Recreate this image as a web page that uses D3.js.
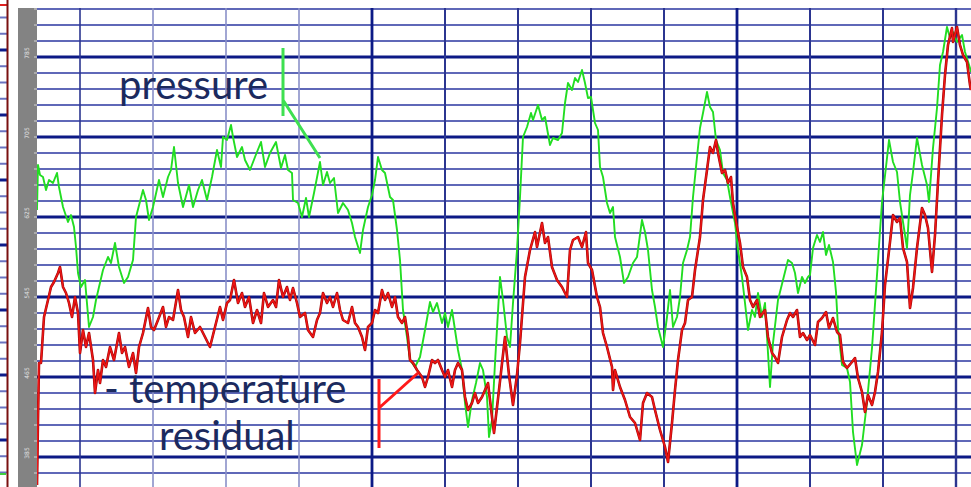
<!DOCTYPE html>
<html>
<head>
<meta charset="utf-8">
<script src="https://cdn.jsdelivr.net/npm/d3@7"></script>
<style>
  html, body { margin: 0; padding: 0; background: #fff; }
  svg { display: block; }
  .lbl { font-family: Lato, "Open Sans", sans-serif; fill: #1b2a5e; }
</style>
</head>
<body>
<svg id="chart" width="971" height="487"></svg>
<script>
// ---- recorded traces: sample index along the run, value in recorder units ----
const pressureT = [0,1,3,6,9,12,16,20,22,26,31,34,37,39,41,44,48,52,56,59,62,66,71,74,78,82,87,91,96,99,106,109,112,116,122,126,131,134,137,141,146,152,156,161,165,170,175,180,184,186,190,194,196,200,205,208,213,218,224,228,233,239,244,248,251,255,256,261,265,269,272,277,283,286,290,293,297,301,306,311,315,318,323,326,331,335,338,341,345,348,353,356,360,363,366,370,373,378,383,388,393,396,400,405,408,411,415,418,421,425,428,431,435,439,443,446,450,452,455,458,463,466,470,473,476,480,483,486,490,494,496,501,505,508,513,516,521,525,528,531,535,538,541,545,548,551,554,558,561,563,566,570,573,576,578,583,587,591,596,600,605,608,611,615,618,621,626,630,633,636,640,643,646,650,653,656,660,663,666,670,673,676,679,683,686,690,693,698,701,705,708,711,715,718,721,725,728,731,733,736,741,746,751,755,758,761,765,768,771,773,776,780,783,786,789,792,796,799,801,805,810,813,816,820,825,830,835,840,845,850,852,856,860,863,866,870,873,876,880,885,890,892,896,900,903,906,910,913,916,920,925,928,933,934];
const pressureV = [247,292,282,280,267,277,274,284,270,250,235,242,230,210,184,170,177,130,140,157,170,187,200,194,214,190,174,180,197,240,267,257,237,250,277,260,280,287,310,274,250,272,250,267,277,257,280,307,290,320,317,332,320,300,310,297,287,300,315,290,304,315,289,302,287,284,257,254,240,259,240,264,295,272,285,274,279,244,254,247,234,220,204,227,250,262,277,300,287,284,260,257,227,197,147,120,97,90,100,127,155,145,154,134,144,130,147,127,107,87,54,30,57,74,94,87,60,20,37,94,180,157,120,110,154,207,260,320,330,344,337,352,337,340,312,319,317,324,354,374,367,379,375,387,374,359,360,334,327,290,280,254,244,250,220,200,174,180,194,200,237,225,207,167,150,130,110,140,167,130,140,160,194,207,220,260,300,329,344,365,350,345,317,307,284,277,260,234,207,180,154,127,147,140,164,140,154,104,70,114,157,177,197,194,184,164,180,174,180,182,209,222,215,225,202,212,195,165,129,92,89,75,25,-8,12,55,109,182,255,299,317,295,285,255,235,209,262,285,319,292,272,255,309,349,392,405,430,419,425,415,422,405,389,385];

const residualT = [0,1,2,4,7,11,14,17,21,23,26,29,32,35,38,41,43,46,49,52,56,58,61,63,66,69,73,77,82,85,88,92,96,99,102,106,111,114,117,121,126,129,132,136,141,144,147,151,154,158,163,168,173,178,183,186,190,193,197,201,205,208,212,216,220,224,227,231,236,239,242,246,250,253,256,260,263,268,271,276,280,283,286,290,293,296,300,303,306,311,315,318,321,325,328,331,335,338,341,345,348,351,355,358,361,365,368,371,373,376,380,385,388,391,395,398,401,405,408,411,415,418,421,425,428,431,435,438,441,445,448,451,455,457,462,468,472,476,480,483,488,493,498,500,505,508,511,515,520,525,530,533,536,541,545,549,551,555,560,563,566,570,575,576,578,583,588,593,598,603,606,610,615,618,623,628,631,635,638,641,645,648,651,655,658,663,666,670,673,676,679,681,685,688,691,694,696,700,703,706,710,713,716,720,723,728,731,735,738,741,745,750,753,756,760,763,766,770,773,778,781,785,789,792,796,800,803,806,810,815,818,821,825,828,831,835,838,841,845,848,853,856,860,863,866,870,873,876,880,885,888,891,895,898,901,905,908,911,915,916,920,923,926,930,933,934];
const residualV = [-28,37,94,94,140,157,170,175,184,190,170,164,154,140,160,144,104,127,110,124,97,64,87,74,97,90,110,97,124,104,110,90,104,84,110,124,149,130,127,137,150,130,140,137,167,147,140,120,140,124,130,120,110,130,150,137,154,157,177,154,164,150,160,134,147,134,164,150,157,150,177,160,170,157,169,154,140,144,127,120,137,144,164,154,160,150,164,147,137,134,150,134,130,120,107,130,134,147,144,167,157,164,150,160,140,134,140,120,97,94,87,80,70,80,97,94,97,87,80,87,70,87,94,87,60,47,54,64,54,60,67,74,40,24,67,120,82,52,82,114,180,207,225,210,234,214,220,190,177,170,160,207,217,220,210,225,194,187,160,150,124,110,90,67,87,70,57,40,34,17,54,64,60,47,27,10,-5,34,67,97,127,134,157,160,187,220,257,287,310,304,317,304,284,287,274,280,254,230,214,190,180,157,150,157,140,147,120,104,100,94,120,137,144,140,147,120,124,117,122,112,135,139,145,129,139,125,122,95,89,95,99,79,65,45,62,52,65,85,125,172,215,242,235,239,209,195,149,169,209,249,242,229,185,222,275,342,382,412,429,415,430,412,402,395,372,367];

// recorder scale divisions
const minorStep = 16;          // one minor division in value units
const majorEvery = 5;          // minor divisions per major division
const timeGridStart = 43;      // first time division
const timeGridStep = 73;       // samples per time division
const timeMajor = [335, 700];  // heavy time divisions

// annotation labels
const labels = [
  { text: "pressure", key: "pressure" },
  { text: "- temperature", key: "residual" },
  { text: "residual", key: "residual" }
];

const W = 971, H = 487;
const plot = { left: 37, right: 971, top: 8, bottom: 487 };

const svg = d3.select("#chart");

const x = d3.scaleLinear().domain([0, 934]).range([plot.left, plot.right]);
const y = d3.scaleLinear().domain([-30, 449]).range([plot.bottom, plot.top]);

// --- neighbouring panel sliver on the far left ---
const sliver = svg.append("g");
const sy = d3.scaleLinear().domain([0, 30]).range([50, 537.5]);
d3.range(-3, 27).forEach(i => {
  const yy = sy(i);
  if (yy < 8 || yy > H) return;
  const major = ((i % 4) + 4) % 4 === 0;
  sliver.append("line")
    .attr("x1", 0).attr("x2", 7).attr("y1", yy).attr("y2", yy)
    .attr("stroke", major ? "#0d1c8a" : "#6a72c0")
    .attr("stroke-width", major ? 3 : 2);
});
sliver.append("line").attr("x1", 0).attr("x2", 7).attr("y1", 5).attr("y2", 5)
  .attr("stroke", "#e02020").attr("stroke-width", 2);
sliver.append("line").attr("x1", 0).attr("x2", 6).attr("y1", 474).attr("y2", 474)
  .attr("stroke", "#40d040").attr("stroke-width", 2);
sliver.append("line").attr("x1", 7.5).attr("x2", 7.5).attr("y1", 0).attr("y2", H)
  .attr("stroke", "#7a1010").attr("stroke-width", 2);

// --- grey value strip ---
const strip = svg.append("g");
strip.append("rect").attr("x", 18).attr("y", plot.top).attr("width", plot.left - 18)
  .attr("height", H - plot.top).attr("fill", "#838383");

const minorVals = d3.range(-16, 449, minorStep);
const majorVals = minorVals.filter(v => v % (minorStep * majorEvery) === 0);

strip.selectAll("line.tk").data(minorVals).join("line")
  .attr("class", "tk")
  .attr("x1", 34).attr("x2", 37)
  .attr("y1", d => y(d)).attr("y2", d => y(d))
  .attr("stroke", "#c8c8c8").attr("stroke-width", 1.2);

strip.selectAll("text").data(majorVals).join("text")
  .attr("transform", d => `translate(29,${y(d) - 4}) rotate(-90)`)
  .attr("text-anchor", "middle")
  .attr("font-family", "DejaVu Sans")
  .attr("font-size", 6)
  .attr("fill", "#e4e4e4")
  .text(d => d3.format("03d")(d + 385));

// --- chart grid ---
const grid = svg.append("g");
grid.append("rect").attr("x", plot.left).attr("y", plot.top)
  .attr("width", plot.right - plot.left).attr("height", plot.bottom - plot.top)
  .attr("fill", "#ffffff");

grid.selectAll("line.h").data(minorVals).join("line")
  .attr("class", "h")
  .attr("x1", plot.left).attr("x2", plot.right)
  .attr("y1", d => y(d)).attr("y2", d => y(d))
  .attr("stroke", d => d % (minorStep * majorEvery) === 0 ? "#0c1a86" : "#5f68b8")
  .attr("stroke-width", d => d % (minorStep * majorEvery) === 0 ? 3 : 1.8);

const timeVals = d3.range(0, 13).map(k => timeGridStart + k * timeGridStep);
grid.selectAll("line.v").data(timeVals).join("line")
  .attr("class", "v")
  .attr("y1", plot.top).attr("y2", plot.bottom)
  .attr("x1", d => x(d)).attr("x2", d => x(d))
  .attr("stroke", d => timeMajor.includes(d) ? "#0c1a86" : (d < 300 && d > 50 ? "#8a90c8" : "#2b3590"))
  .attr("stroke-width", d => timeMajor.includes(d) ? 2.8 : (d === timeVals[12] ? 2.4 : (d < 300 ? 1.6 : 2)));

// --- traces ---
const clip = svg.append("clipPath").attr("id", "plotclip")
  .append("rect").attr("x", plot.left).attr("y", plot.top)
  .attr("width", plot.right - plot.left).attr("height", plot.bottom - plot.top);

const line = d3.line().x(d => x(d[0])).y(d => y(d[1]));
const pressure = pressureT.map((t, i) => [t, pressureV[i]]);
const residual = residualT.map((t, i) => [t, residualV[i]]);

const traces = svg.append("g").attr("clip-path", "url(#plotclip)");
traces.append("path").datum(pressure)
  .attr("d", line).attr("fill", "none")
  .attr("stroke", "#22dd22").attr("stroke-width", 1.9)
  .attr("stroke-linejoin", "round");
traces.append("path").datum(residual)
  .attr("d", line).attr("fill", "none")
  .attr("stroke", "#a00808").attr("stroke-width", 2.6)
  .attr("stroke-linejoin", "round");
traces.append("path").datum(residual)
  .attr("d", line).attr("fill", "none")
  .attr("stroke", "#ee1515").attr("stroke-width", 1.5)
  .attr("stroke-linejoin", "round");

// --- annotations ---
const ann = svg.append("g");
ann.append("text").attr("class", "lbl").attr("x", 119).attr("y", 99)
  .attr("font-size", 40).text(labels[0].text);
ann.append("text").attr("class", "lbl").attr("x", 104).attr("y", 403)
  .attr("font-size", 40).text(labels[1].text);
ann.append("text").attr("class", "lbl").attr("x", 159).attr("y", 450)
  .attr("font-size", 40).text(labels[2].text);

// pointer from "pressure" label to the green trace
ann.append("path")
  .attr("d", `M${x(246)},${y(409)} V${y(341)} M${x(246)},${y(357)} L${x(283)},${y(299)}`)
  .attr("fill", "none").attr("stroke", "#3ee050").attr("stroke-width", 3);
// pointer from "temperature residual" label to the red trace
ann.append("path")
  .attr("d", `M${x(342)},${y(78)} V${y(9)} M${x(342)},${y(49)} L${x(381)},${y(84)}`)
  .attr("fill", "none").attr("stroke", "#ff1a1a").attr("stroke-width", 3);
</script>
</body>
</html>
